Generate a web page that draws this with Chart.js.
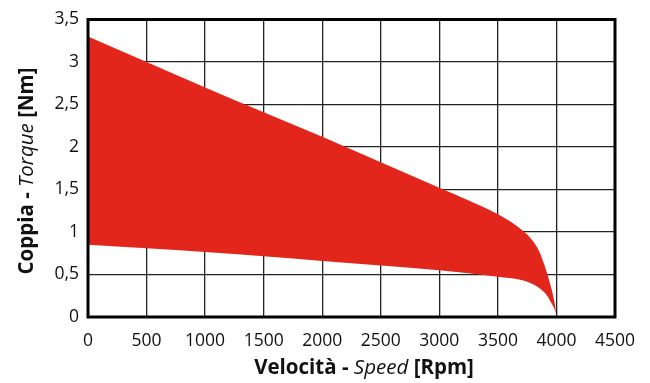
<!DOCTYPE html>
<html>
<head>
<meta charset="utf-8">
<script src="https://cdn.jsdelivr.net/npm/chart.js@4"></script>
<style>
    html, body { margin: 0; padding: 0; background: #fff; }
    #wrap { width: 650px; height: 383px; position: relative; }
</style>
</head>
<body>
<div id="wrap"><canvas id="torque-chart"></canvas></div>
<script>
// Speed points [Rpm] shared by both curves
const speed = [0, 500, 1000, 1500, 2000, 2500, 3000, 3250, 3500, 3600, 3700, 3750, 3800, 3850, 3900, 3925, 3950, 3975, 3990, 4000];
// Upper limit of the torque band [Nm]
const torqueMax = [3.3, 3.0, 2.7, 2.41, 2.12, 1.82, 1.52, 1.37, 1.21, 1.13, 1.03, 0.97, 0.89, 0.78, 0.6, 0.49, 0.37, 0.23, 0.12, 0.02];
// Lower limit of the torque band [Nm]
const torqueMin = [0.85, 0.81, 0.765, 0.715, 0.66, 0.605, 0.55, 0.515, 0.475, 0.458, 0.435, 0.415, 0.385, 0.345, 0.285, 0.24, 0.18, 0.12, 0.07, 0.02];

const xTicks = [0, 500, 1000, 1500, 2000, 2500, 3000, 3500, 4000, 4500];
const yTicks = [0, 0.5, 1, 1.5, 2, 2.5, 3, 3.5];

const bandColor = '#E3261B';
const tickFont = { family: 'Open Sans', size: 17.5 };

// Helper: draw a title made of pieces with different styles
function drawPieces(ctx, pieces) {
    let total = 0;
    pieces.forEach(p => { ctx.font = p.font; total += ctx.measureText(p.text).width; });
    let pos = -total / 2;
    pieces.forEach(p => {
        ctx.font = p.font;
        ctx.fillText(p.text, pos, 0);
        pos += ctx.measureText(p.text).width;
    });
}

// Frame around the plot and the mixed style axis titles
const framePlugin = {
    id: 'frame',
    afterDraw(chart) {
        const { ctx, chartArea } = chart;
        ctx.save();
        ctx.strokeStyle = '#000';
        ctx.lineWidth = 3;
        ctx.strokeRect(chartArea.left, chartArea.top, chartArea.right - chartArea.left, chartArea.bottom - chartArea.top);

        ctx.fillStyle = '#111';
        ctx.textBaseline = 'middle';
        ctx.textAlign = 'left';
        const bold = 'bold 20.5px "Open Sans"';
        const ital = 'italic 20.5px "Open Sans"';

        ctx.save();
        ctx.translate(364, 368);
        drawPieces(ctx, [
            { text: 'Velocità - ', font: bold },
            { text: 'Speed', font: ital },
            { text: ' [Rpm]', font: bold }
        ]);
        ctx.restore();

        ctx.save();
        ctx.translate(27, 171);
        ctx.rotate(-Math.PI / 2);
        drawPieces(ctx, [
            { text: 'Coppia - ', font: bold },
            { text: 'Torque', font: ital },
            { text: ' [Nm]', font: bold }
        ]);
        ctx.restore();
        ctx.restore();
    }
};

const ctx = document.getElementById('torque-chart').getContext('2d');

new Chart(ctx, {
    type: 'line',
    data: {
        datasets: [
            {
                label: 'Max',
                data: speed.map((s, i) => ({ x: s, y: torqueMax[i] })),
                borderWidth: 0,
                pointRadius: 0,
                backgroundColor: bandColor,
                fill: '+1',
                cubicInterpolationMode: 'monotone'
            },
            {
                label: 'Min',
                data: speed.map((s, i) => ({ x: s, y: torqueMin[i] })),
                borderWidth: 0,
                pointRadius: 0,
                fill: false,
                cubicInterpolationMode: 'monotone'
            }
        ]
    },
    options: {
        responsive: true,
        maintainAspectRatio: false,
        animation: false,
        layout: { padding: { top: 17, right: 35, left: 0, bottom: 0 } },
        plugins: {
            legend: { display: false },
            tooltip: { enabled: false }
        },
        scales: {
            x: {
                type: 'linear',
                min: 0,
                max: 4500,
                z: 1,
                afterBuildTicks: axis => { axis.ticks = xTicks.map(v => ({ value: v })); },
                afterFit: axis => { axis.height = 66; },
                ticks: {
                    color: '#111',
                    font: tickFont,
                    padding: 14,
                    maxRotation: 0,
                    callback: v => String(v)
                },
                grid: { color: '#222', lineWidth: 1.3, drawTicks: false },
                border: { display: false }
            },
            y: {
                min: 0,
                max: 3.5,
                z: 1,
                afterBuildTicks: axis => { axis.ticks = yTicks.map(v => ({ value: v })); },
                afterFit: axis => { axis.width = 88; },
                ticks: {
                    color: '#111',
                    font: tickFont,
                    padding: 9,
                    callback: v => String(v).replace('.', ',')
                },
                grid: { color: '#222', lineWidth: 1.3, drawTicks: false },
                border: { display: false }
            }
        }
    },
    plugins: [framePlugin]
});
</script>
</body>
</html>
